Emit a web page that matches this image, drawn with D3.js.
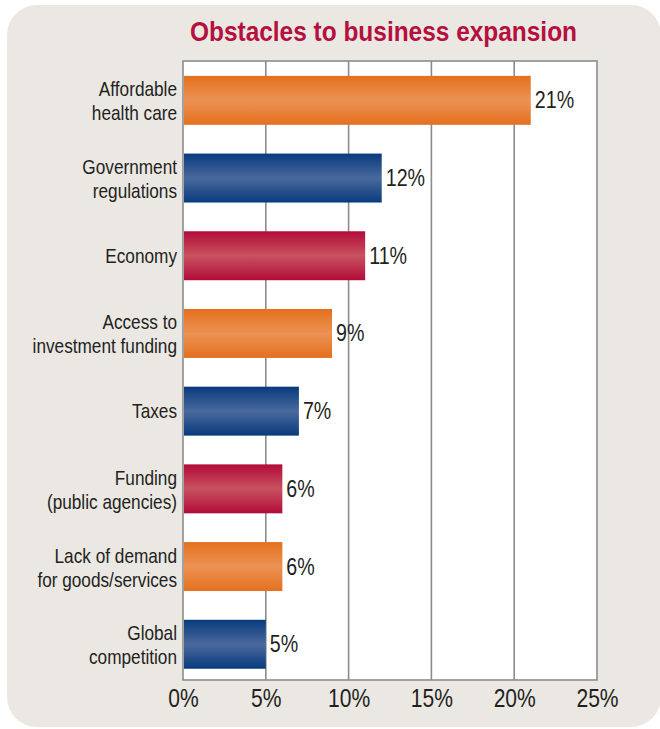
<!DOCTYPE html>
<html>
<head>
<meta charset="utf-8">
<script src="https://cdn.jsdelivr.net/npm/d3@7"></script>
<style>
  html, body { margin: 0; padding: 0; background: #ffffff; }
  svg { display: block; }
  text { font-family: "Liberation Sans", Arial, sans-serif; }
</style>
</head>
<body>
<script>
// Survey results: share of respondents naming each obstacle
const categories = [
  ["Affordable", "health care"],
  ["Government", "regulations"],
  ["Economy"],
  ["Access to", "investment funding"],
  ["Taxes"],
  ["Funding", "(public agencies)"],
  ["Lack of demand", "for goods/services"],
  ["Global", "competition"]
];
const values = [21, 12, 11, 9, 7, 6, 6, 5];
const colorKeys = ["orange", "blue", "red", "orange", "blue", "red", "orange", "blue"];
const tickValues = [0, 5, 10, 15, 20, 25];
const title = "Obstacles to business expansion";

const W = 660, H = 729;
const plot = { left: 183, right: 597, top: 61, bottom: 680 };
const narrow = 0.82; // horizontal squeeze for a condensed look

const svg = d3.select("body").append("svg")
  .attr("width", W).attr("height", H);

// Gradient fills: darker edges, lighter band through the middle
const palettes = {
  orange: ["#e4701f", "#ec9254"],
  blue:   ["#083b7c", "#4a699e"],
  red:    ["#b20c39", "#c8525f"]
};
const defs = svg.append("defs");
Object.entries(palettes).forEach(([k, [edge, mid]]) => {
  const g = defs.append("linearGradient")
    .attr("id", "grad-" + k)
    .attr("x1", 0).attr("y1", 0).attr("x2", 0).attr("y2", 1);
  g.append("stop").attr("offset", "0%").attr("stop-color", edge);
  g.append("stop").attr("offset", "50%").attr("stop-color", mid);
  g.append("stop").attr("offset", "100%").attr("stop-color", edge);
});

// Background panel
svg.append("rect")
  .attr("x", 7).attr("y", 5)
  .attr("width", 654).attr("height", 722)
  .attr("rx", 30).attr("ry", 30)
  .attr("fill", "#ebe8e4");

// Title
svg.append("text")
  .attr("x", 190).attr("y", 41)
  .attr("font-family", "'Open Sans', 'Liberation Sans', sans-serif")
  .attr("font-size", 28)
  .attr("font-weight", 600)
  .attr("fill", "#b5103e")
  .attr("textLength", 387)
  .attr("lengthAdjust", "spacingAndGlyphs")
  .text(title);

const x = d3.scaleLinear().domain([0, 25]).range([plot.left, plot.right]);
const y = d3.scaleBand()
  .domain(d3.range(values.length))
  .range([61.5, 683.1])
  .paddingInner(0.37)
  .paddingOuter(0.185);

// Plot area
svg.append("rect")
  .attr("x", plot.left).attr("y", plot.top)
  .attr("width", plot.right - plot.left)
  .attr("height", plot.bottom - plot.top)
  .attr("fill", "#ffffff");

// Vertical grid lines
svg.append("g")
  .selectAll("line")
  .data(tickValues.slice(1, -1))
  .join("line")
  .attr("x1", d => x(d)).attr("x2", d => x(d))
  .attr("y1", plot.top).attr("y2", plot.bottom)
  .attr("stroke", "#8c8c8c").attr("stroke-width", 1.6);

// Frame
svg.append("rect")
  .attr("x", plot.left).attr("y", plot.top)
  .attr("width", plot.right - plot.left)
  .attr("height", plot.bottom - plot.top)
  .attr("fill", "none")
  .attr("stroke", "#8c8c8c").attr("stroke-width", 1.6);

// Bars
svg.append("g")
  .selectAll("rect")
  .data(values)
  .join("rect")
  .attr("x", x(0) + 1)
  .attr("y", (d, i) => y(i))
  .attr("width", d => x(d) - x(0) - 1)
  .attr("height", y.bandwidth())
  .attr("fill", (d, i) => `url(#grad-${colorKeys[i]})`);

// Value labels
svg.append("g")
  .selectAll("text")
  .data(values)
  .join("text")
  .attr("transform", (d, i) =>
    `translate(${x(d) + 4},${y(i) + y.bandwidth() / 2 + 8}) scale(${narrow},1)`)
  .attr("font-size", 24)
  .attr("fill", "#231f20")
  .text(d => d + "%");

// Category labels (one or two lines, right-aligned)
const catG = svg.append("g")
  .selectAll("text")
  .data(categories)
  .join("text")
  .attr("text-anchor", "end")
  .attr("font-size", 21)
  .attr("fill", "#231f20")
  .attr("transform", (d, i) => {
    const c = y(i) + y.bandwidth() / 2;
    const base = d.length === 1 ? c + 7 : c - 4;
    return `translate(${plot.left - 6},${base}) scale(${narrow},1)`;
  });
catG.selectAll("tspan")
  .data(d => d)
  .join("tspan")
  .attr("x", 0)
  .attr("dy", (d, i) => i === 0 ? 0 : 24)
  .text(d => d);

// X axis tick labels, squeezed about each tick's own centre
const axis = d3.axisBottom(x)
  .tickValues(tickValues)
  .tickFormat(d => d + "%")
  .tickSize(0)
  .tickPadding(9);
const axG = svg.append("g")
  .attr("transform", `translate(0,${plot.bottom})`)
  .call(axis);
axG.select(".domain").remove();
axG.selectAll("text")
  .attr("font-size", 26)
  .attr("fill", "#231f20")
  .attr("font-family", "'Liberation Sans', Arial, sans-serif")
  .attr("transform", `scale(0.81,1)`);
</script>
</body>
</html>
